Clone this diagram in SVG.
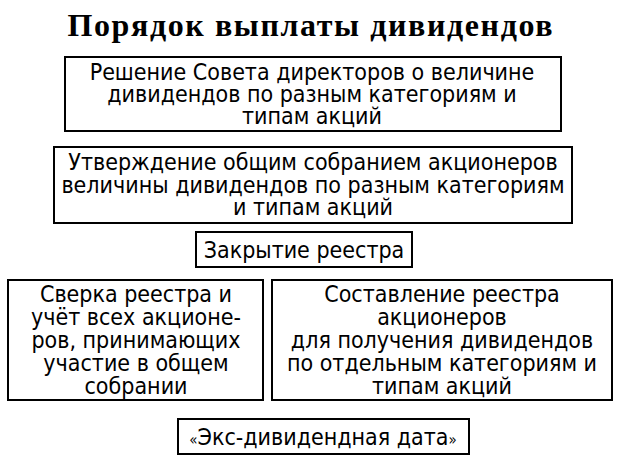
<svg xmlns="http://www.w3.org/2000/svg" width="620" height="467" viewBox="0 0 620 467">
<style>
.box{fill:#fff;stroke:#000;stroke-width:2}
.t{font-family:"DejaVu Sans Condensed","DejaVu Sans","Liberation Sans",sans-serif;font-stretch:condensed;font-size:23px;text-anchor:middle;fill:#000}
.title{font-family:"Liberation Serif","Times New Roman",serif;font-weight:bold;font-size:32px;text-anchor:middle;fill:#000}
</style>
<rect width="620" height="467" fill="#fff"/>
<text class="title" x="310" y="36" textLength="485" lengthAdjust="spacing">Порядок выплаты дивидендов</text>
<g id="connectors"></g>
<g id="n1">
<rect class="box" x="65" y="57" width="496" height="74"/>
<text class="t" x="312" y="80">Решение Совета директоров о величине</text>
<text class="t" x="312" y="102">дивидендов по разным категориям и</text>
<text class="t" x="312" y="124">типам акций</text>
</g>
<g id="n2">
<rect class="box" x="54" y="147" width="518" height="76"/>
<text class="t" x="313" y="170">Утверждение общим собранием акционеров</text>
<text class="t" x="313" y="193">величины дивидендов по разным категориям</text>
<text class="t" x="313" y="215">и типам акций</text>
</g>
<g id="n3">
<rect class="box" x="196" y="232" width="216" height="35"/>
<text class="t" x="304" y="258">Закрытие реестра</text>
</g>
<g id="n4">
<rect class="box" x="8" y="280" width="255" height="120"/>
<text class="t" x="136" y="302">Сверка реестра и</text>
<text class="t" x="136" y="325">учёт всех акционе-</text>
<text class="t" x="136" y="348">ров, принимающих</text>
<text class="t" x="136" y="371">участие в общем</text>
<text class="t" x="136" y="394">собрании</text>
</g>
<g id="n5">
<rect class="box" x="272" y="280" width="340" height="120"/>
<text class="t" x="442" y="302">Составление реестра</text>
<text class="t" x="442" y="325">акционеров</text>
<text class="t" x="442" y="348">для получения дивидендов</text>
<text class="t" x="442" y="371">по отдельным категориям и</text>
<text class="t" x="442" y="394">типам акций</text>
</g>
<g id="n6">
<rect class="box" x="178" y="419" width="291" height="35"/>
<text class="t" x="323" y="445"><tspan font-size="15">«</tspan>Экс-дивидендная дата<tspan font-size="15">»</tspan></text>
</g>
</svg>
